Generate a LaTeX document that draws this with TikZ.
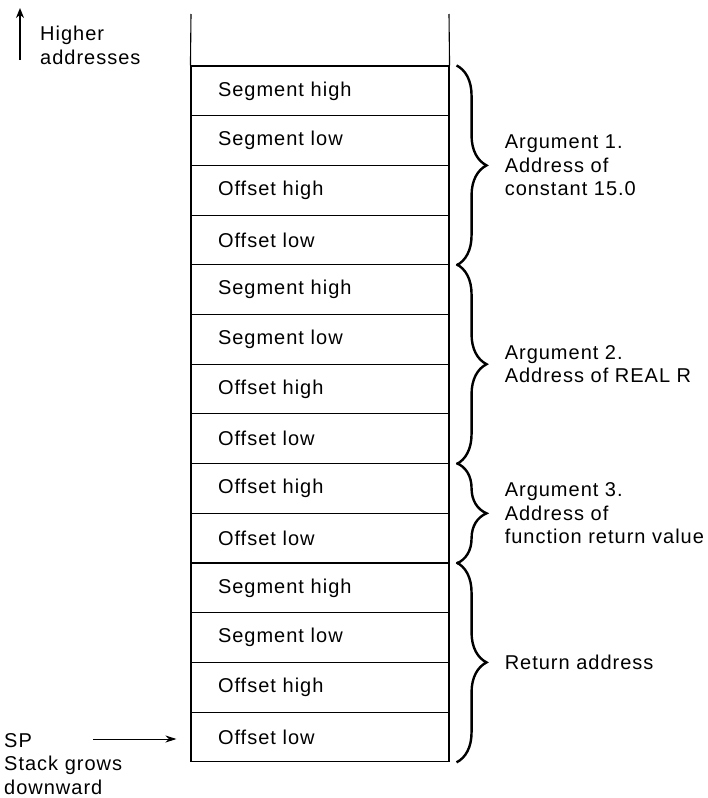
\documentclass[tikz,border=0pt]{standalone}
\usepackage{fontspec}
\setmainfont{Liberation Sans}[LetterSpace=5]
\usetikzlibrary{positioning,decorations.pathreplacing,arrows.meta}

\tikzset{
  cell/.style={draw, line width=1.1pt, minimum width=258pt, minimum height=49.7pt,
    text width=204pt, inner xsep=27pt, inner ysep=0pt, align=left},
  brc/.style={decorate, line width=2.4pt, decoration={brace, amplitude=30pt, aspect=0.5}},
  lbl/.style={align=left, inner sep=0pt, anchor=west},
}

\begin{document}
\begin{tikzpicture}[x=1pt, y=-1pt, font=\fontsize{20}{23.5}\selectfont]

\useasboundingbox (0,0) rectangle (708,798);

% stack cells, top to bottom
\foreach \txt [count=\i] in {Segment high, Segment low, Offset high, Offset low,
    Segment high, Segment low, Offset high, Offset low,
    Offset high, Offset low,
    Segment high, Segment low, Offset high, Offset low} {
  \pgfmathsetmacro{\ypos}{66 + (\i - 0.5) * 49.7}
  \node[cell] (r\i) at (320,\ypos) {\txt};
}

% open top of the stack
\coordinate (topL) at (191,14);
\coordinate (topR) at (449,14);
\draw[line width=1.1pt] (r1.north west) -- (topL);
\draw[line width=1.1pt] (r1.north east) -- (topR);

% braces and what they group
\draw[brc] ([xshift=7pt]r1.north east) -- ([xshift=7pt]r4.south east)
  node[midway, lbl, xshift=47pt] (arg1) {Argument 1.\\Address of\\constant 15.0};
\draw[brc] ([xshift=7pt]r5.north east) -- ([xshift=7pt]r8.south east)
  node[midway, lbl, xshift=47pt] (arg2) {Argument 2.\\Address of REAL R};
\draw[brc] ([xshift=7pt]r9.north east) -- ([xshift=7pt]r10.south east)
  node[midway, lbl, xshift=47pt] (arg3) {Argument 3.\\Address of\\function return value};
\draw[brc] ([xshift=7pt]r11.north east) -- ([xshift=7pt]r14.south east)
  node[midway, lbl, xshift=47pt] (ret) {Return address};

% higher addresses
\coordinate (upA) at (20,60);
\coordinate (upB) at (20,8);
\draw[line width=1.6pt, -{Stealth[length=10pt, width=8pt]}] (upA) -- (upB);
\node[lbl, anchor=north west] (high) at (40,26) {Higher\\addresses};

% stack pointer
\node[lbl, anchor=north west] (sp) at (4,733) {SP\\Stack grows\\downward};
\coordinate (spA) at (93,739);
\draw[line width=1pt, -{Stealth[length=11pt, width=7pt]}] (spA) -- ([xshift=-14pt]r14.west |- spA);

\end{tikzpicture}
\end{document}
